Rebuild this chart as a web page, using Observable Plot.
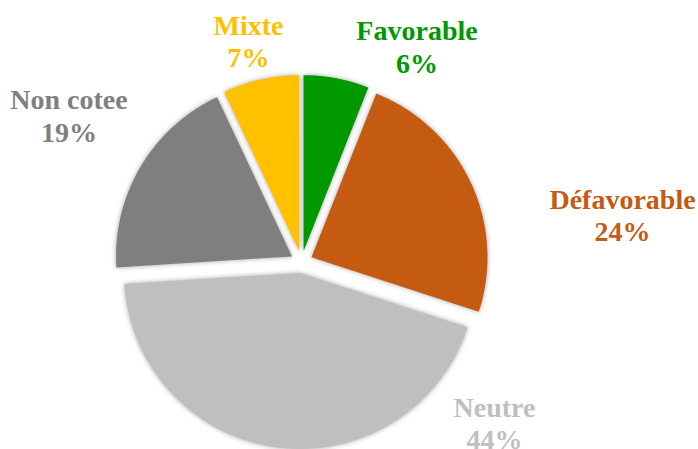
<!DOCTYPE html>
<html>
<head>
<meta charset="utf-8">
<script src="https://cdn.jsdelivr.net/npm/d3@7"></script>
<script src="https://cdn.jsdelivr.net/npm/@observablehq/plot@0.6"></script>
<style>
  html, body { margin: 0; padding: 0; background: #fff; }
  #chart svg g.slices path { filter: drop-shadow(0 0 2.5px rgba(0,0,0,0.35)); }
  #chart svg text { font-family: "Liberation Serif", "Times New Roman", Times, serif !important; font-weight: bold; }
</style>
</head>
<body>
<div id="chart"></div>
<script>
// Data
const categories = ["Favorable", "Défavorable", "Neutre", "Non cotee", "Mixte"];
const shares = [6, 24, 44, 19, 7];
const colors = ["#009900", "#C55A11", "#BFBFBF", "#7F7F7F", "#FFC000"];

// Layout (pixels)
const W = 698, H = 449;
const cx = 301, cy = 261.5, R = 176, explode = 11;
// label anchor points (pixel layout)
const labelX = [416.5, 622, 494, 68.5, 248];
const labelY = [45.8, 214.3, 422.3, 114.8, 40.3];

const arcs = d3.pie().sort(null).value(d => d)(shares);

const slicePts = [];
arcs.forEach((a, i) => {
  const mid = (a.startAngle + a.endAngle) / 2;
  const ox = cx + explode * Math.sin(mid);
  const oy = cy - explode * Math.cos(mid);
  slicePts.push({cat: categories[i], x: ox, y: oy});
  const n = Math.max(2, Math.ceil((a.endAngle - a.startAngle) / (Math.PI / 360)));
  for (let k = 0; k <= n; k++) {
    const t = a.startAngle + (a.endAngle - a.startAngle) * k / n;
    slicePts.push({cat: categories[i], x: ox + R * Math.sin(t), y: oy - R * Math.cos(t)});
  }
  slicePts.push({cat: categories[i], x: ox, y: oy});
});

const labels = categories.map((c, i) => ({
  cat: c,
  text: c + "\n" + shares[i] + "%",
  x: labelX[i],
  y: labelY[i]
}));

const chart = Plot.plot({
  width: W,
  height: H,
  margin: 0,
  x: {domain: [0, W], range: [0, W], axis: null},
  y: {domain: [0, H], range: [0, H], axis: null},
  color: {domain: categories, range: colors},
  marks: [
    Plot.line(slicePts, {x: "x", y: "y", z: "cat", fill: "cat", stroke: "none", className: "slices"}),
    Plot.text(labels, {
      x: "x", y: "y", text: "text", fill: "cat",
      fontFamily: "Liberation Serif", fontWeight: "bold", fontSize: 28,
      lineHeight: 1.16, textAnchor: "middle", lineAnchor: "middle"
    })
  ]
});
document.getElementById("chart").appendChild(chart);
d3.select(chart).selectAll("text").style("font-family", "'Liberation Serif', serif");
</script>
</body>
</html>
